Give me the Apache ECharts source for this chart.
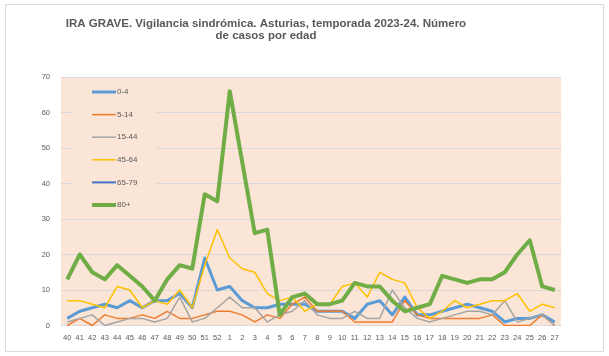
<!DOCTYPE html>
<html>
<head>
<meta charset="utf-8">
<script src="https://cdn.jsdelivr.net/npm/echarts@6/dist/echarts.min.js"></script>
<style>
  html, body { margin: 0; padding: 0; background: #ffffff; }
  #chart { width: 609px; height: 356px; }
</style>
</head>
<body>
<div id="chart"></div>
<script>
// Epidemiological weeks of the 2023-24 season
const weeks = ['40','41','42','43','44','45','46','47','48','49','50','51','52',
  '1','2','3','4','5','6','7','8','9','10','11','12','13','14','15','16',
  '17','18','19','20','21','22','23','24','25','26','27'];

// Weekly severe ARI cases by age group
const age0_4   = [2,4,5,6,5,7,5,7,7,9,5,19,10, 11,7,5,5,6,6,6,4,4,4,2,6,7,3,8,3, 3,4,5,6,5,4,1,2,2,3,1];
const age5_14  = [0,2,0,3,2,2,3,2,4,2,2,3,4, 4,3,1,3,2,6,8,4,4,4,1,1,1,1,7,3, 2,2,2,2,2,3,0,0,0,3,0];
const age15_44 = [1,2,3,0,1,2,2,1,2,8,1,2,5, 8,5,5,1,3,4,7,3,2,2,4,2,2,10,5,2, 1,2,3,4,4,3,7,1,2,3,0];
const age45_64 = [7,7,6,5,11,10,5,7,6,10,5,17,27, 19,16,15,9,7,8,4,6,6,11,12,8,15,13,12,5, 2,4,7,5,6,7,7,9,4,6,5];
const age65_79 = [];
const age80    = [13,20,15,13,17,14,11,7,13,17,16,37,35, 66,46,26,27,3,8,9,6,6,7,12,11,11,7,4,5, 6,14,13,12,13,13,15,20,24,11,10];

const yTicks = { min: 0, max: 70, interval: 10 };

const groups = [
  { name: '0-4',   data: age0_4,   color: '#5B9BD5', width: 3 },
  { name: '5-14',  data: age5_14,  color: '#ED7D31', width: 1.5 },
  { name: '15-44', data: age15_44, color: '#A5A5A5', width: 1.5 },
  { name: '45-64', data: age45_64, color: '#FFC000', width: 1.5 },
  { name: '65-79', data: age65_79, color: '#4472C4', width: 2 },
  { name: '80+',   data: age80,    color: '#70AD47', width: 4 }
];

const chart = echarts.init(document.getElementById('chart'), null, { renderer: 'canvas' });

const textColor = '#595959';
const font = '"Liberation Sans", Arial, sans-serif';

chart.setOption({
  animation: false,
  backgroundColor: '#ffffff',
  graphic: [
    {
      type: 'rect',
      shape: { x: 5.5, y: 4.5, width: 598, height: 347 },
      style: { fill: 'none', stroke: '#d9d9d9', lineWidth: 1 },
      silent: true
    },
    {
      type: 'text',
      x: 266, y: 30,
      style: {
        text: 'IRA GRAVE. Vigilancia sindrómica. Asturias, temporada 2023-24. Número\nde casos por edad',
        align: 'center',
        verticalAlign: 'middle',
        fill: textColor,
        fontSize: 11.5,
        fontWeight: 'bold',
        fontFamily: font,
        lineHeight: 12.5
      }
    }
  ],
  grid: {
    left: 61, right: 48, top: 77, bottom: 30.5,
    show: true,
    backgroundColor: '#FBE5D6',
    borderWidth: 0
  },
  legend: {
    orient: 'vertical',
    left: 73, top: 80,
    padding: [8, 19, 5, 19],
    backgroundColor: '#FBE5D6',
    itemWidth: 24, itemHeight: 14, itemGap: 14.6,
    textStyle: { color: textColor, fontSize: 8, fontFamily: font, padding: [0, 0, 0, -4] },
    data: groups.map(g => ({ name: g.name, icon: 'path://M0,0L24,0L24,' + g.width + 'L0,' + g.width + 'Z', itemStyle: { color: g.color } }))
  },
  xAxis: {
    type: 'category',
    data: weeks,
    boundaryGap: true,
    axisLine: { show: true, lineStyle: { color: '#d9d9d9' } },
    axisTick: { show: false },
    axisLabel: { color: textColor, fontSize: 7.5, fontFamily: font, interval: 0, margin: 8 },
    splitLine: { show: false }
  },
  yAxis: {
    type: 'value',
    min: yTicks.min, max: yTicks.max, interval: yTicks.interval,
    axisLine: { show: false },
    axisTick: { show: false },
    axisLabel: { color: textColor, fontSize: 7.5, fontFamily: font, margin: 11 },
    splitLine: { show: true, lineStyle: { color: '#d9d9d9', width: 1 } }
  },
  series: groups.map(g => ({
    name: g.name,
    type: 'line',
    data: g.data,
    symbol: 'none',
    smooth: false,
    lineStyle: { color: g.color, width: g.width, join: 'round' },
    itemStyle: { color: g.color }
  }))
});
</script>
</body>
</html>
